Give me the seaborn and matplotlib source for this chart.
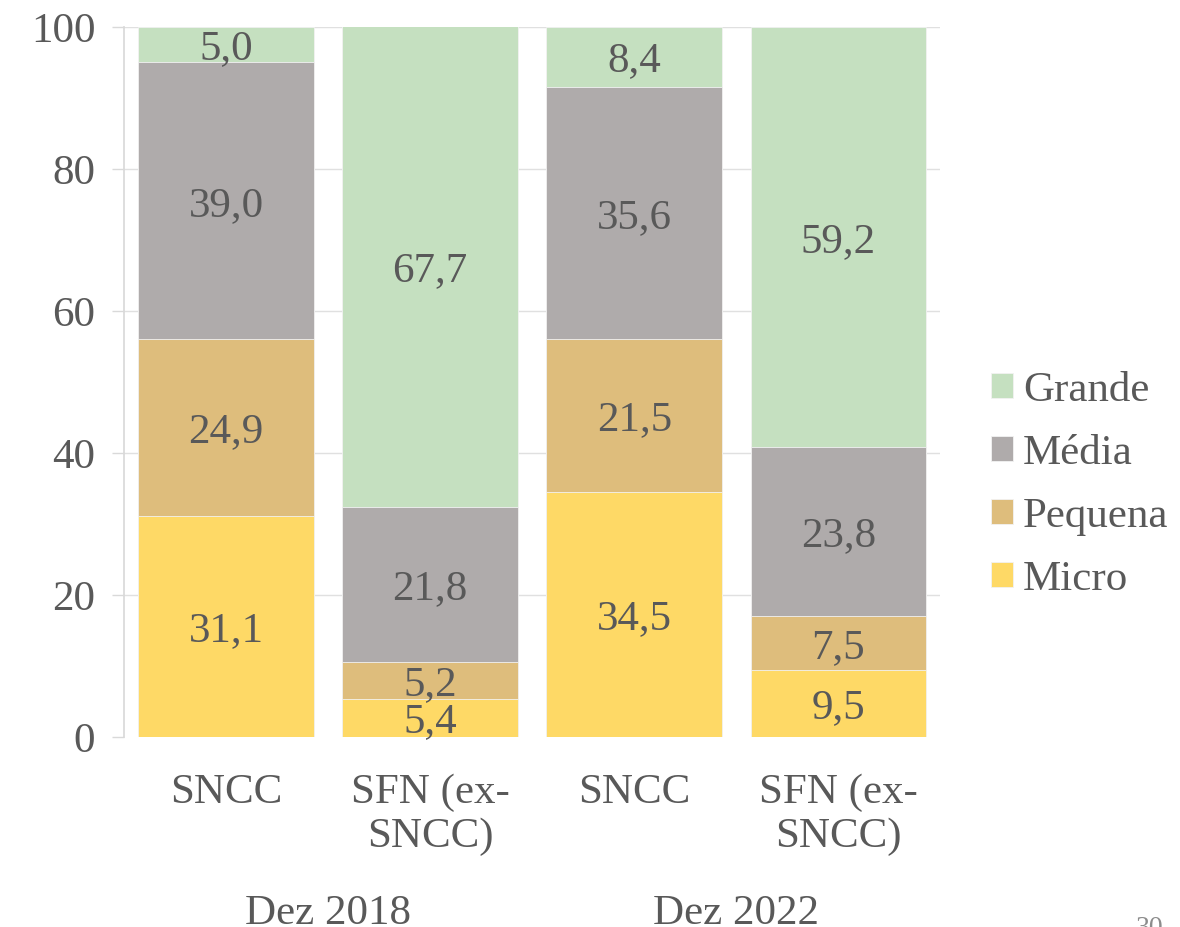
import numpy as np
import pandas as pd
import matplotlib.pyplot as plt
import matplotlib.transforms as mtransforms
import seaborn as sns

# data (percent shares by company size)
bar_ids = ['SNCC 2018', 'SFN 2018', 'SNCC 2022', 'SFN 2022']
bar_labels = ['SNCC', 'SFN (ex-\nSNCC)', 'SNCC', 'SFN (ex-\nSNCC)']
groups = ['Dez 2018', 'Dez 2022']
sizes = ['Micro', 'Pequena', 'Média', 'Grande']
micro = [31.1, 5.4, 34.5, 9.5]
pequena = [24.9, 5.2, 21.5, 7.5]
media = [39.0, 21.8, 35.6, 23.8]
grande = [5.0, 67.7, 8.4, 59.2]
colors = {'Micro': '#FED966', 'Pequena': '#DEBD7C', 'Média': '#AFABAB', 'Grande': '#C5E0C0'}

sns.set_theme(style='white')
plt.rcParams['font.family'] = ['Liberation Serif', 'DejaVu Serif']
txt_color = '#595959'
fs = 31

df = pd.DataFrame({'bar': bar_ids, 'Micro': micro, 'Pequena': pequena,
                   'Média': media, 'Grande': grande})
# cumulative tops, drawn from the tallest layer down
cum = df[sizes].cumsum(axis=1)

fig = plt.figure(figsize=(11.8, 9.27), dpi=100)
ax = fig.add_axes([0.105, 0.205, 0.692, 0.766])

for s in reversed(sizes):
    sns.barplot(x=df['bar'], y=cum[s], order=bar_ids, color=colors[s],
                width=0.86, saturation=1, ax=ax, zorder=2, label=s,
                edgecolor='#F2F2F2', linewidth=0.6)

# value labels centred in each segment
for i in range(len(bar_ids)):
    bottom = 0
    for s in sizes:
        v = df.loc[i, s]
        ax.text(i, bottom + v / 2, f'{v:.1f}'.replace('.', ','), ha='center',
                va='center_baseline', fontsize=fs, color=txt_color, zorder=3)
        bottom += v

ax.set_xlim(-0.5, 3.5)
ax.set_ylim(0, 100)
ax.set_yticks(range(0, 101, 20))
ax.set_xticks(range(4))
ax.set_xticklabels(bar_labels)
ax.set_xlabel('')
ax.set_ylabel('')
ax.tick_params(axis='x', length=0, pad=26, labelsize=fs, labelcolor=txt_color)
ax.tick_params(axis='y', left=True, length=8.6, width=1, color='#D9D9D9', pad=12,
               labelsize=fs, labelcolor=txt_color)
ax.grid(axis='y', color='#E0E0E0', linewidth=1, zorder=0)
ax.set_axisbelow(True)
ax.yaxis.get_gridlines()[0].set_visible(False)
for side in ['top', 'right', 'bottom']:
    ax.spines[side].set_visible(False)
ax.spines['left'].set_color('#D9D9D9')

# group labels under the bars
trans = mtransforms.blended_transform_factory(ax.transData, ax.transAxes)
for k, g in enumerate(groups):
    ax.text(2 * k + 0.5, -0.264, g, transform=trans, ha='center', va='baseline',
            fontsize=fs, color=txt_color)

handles, labels = ax.get_legend_handles_labels()
ax.legend(handles, labels, loc='center left', bbox_to_anchor=(0.807, 0.477),
          bbox_transform=fig.transFigure, frameon=False, fontsize=fs,
          labelcolor=txt_color, handlelength=0.51, handleheight=0.51,
          handletextpad=0.23, labelspacing=0.57)

fig.text(0.974, 0.012, '30', ha='center', va='top', fontsize=20, color='#8C8C8C')

fig.savefig('out.png', dpi=100)
